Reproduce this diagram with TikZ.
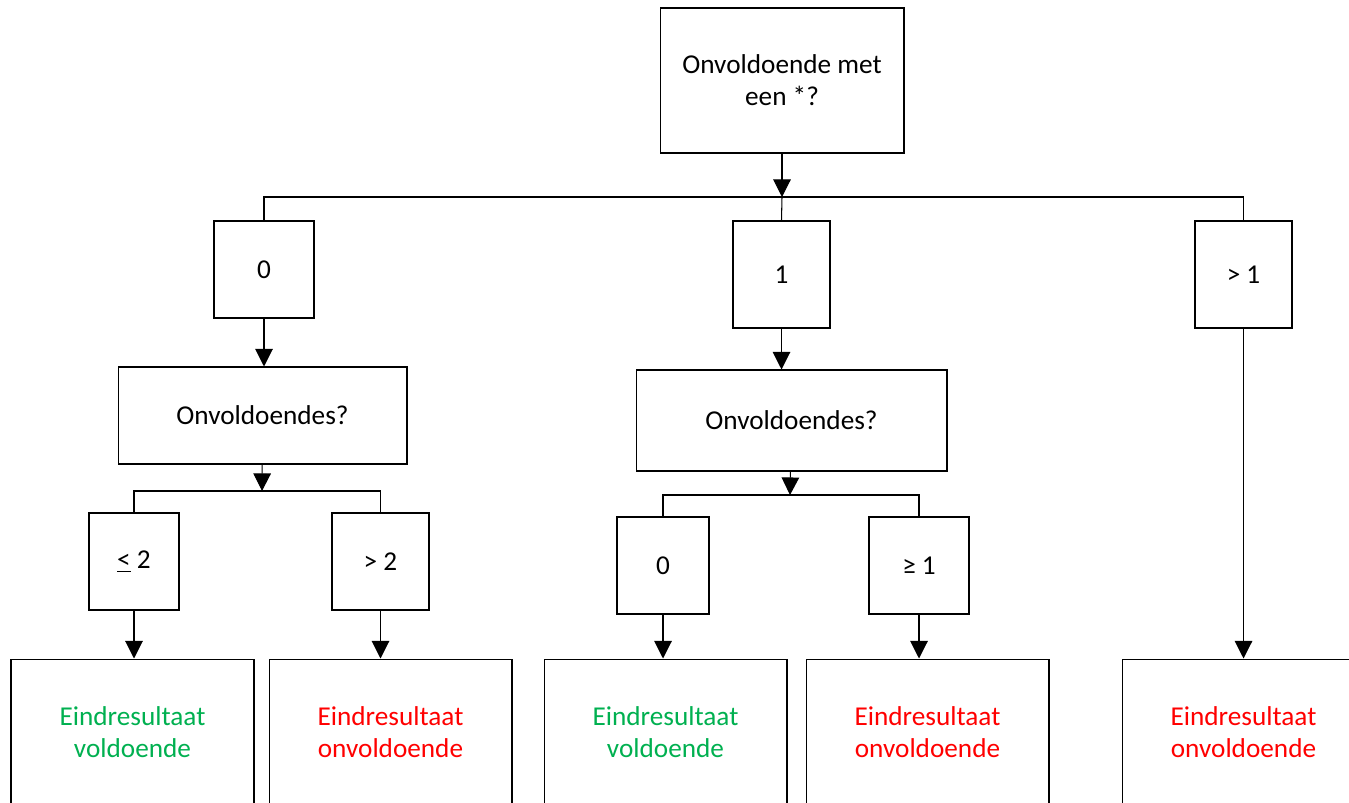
\documentclass[tikz,border=0pt]{standalone}
\usepackage{fontspec}
\setmainfont{Carlito}
\usetikzlibrary{arrows.meta}
\definecolor{okgreen}{HTML}{00B050}
\definecolor{badred}{HTML}{FF0000}
\begin{document}
\begin{tikzpicture}[x=0.02cm,y=-0.02cm,
  line width=0.6pt,
  box/.style={draw,inner sep=0pt,align=center,
    font=\fontsize{15.5}{18.2}\selectfont},
  arr/.style={-{Triangle[length=10pt,width=10pt]}}]
\useasboundingbox (0,0) rectangle (1349,802);
% vraag bovenaan
\node[box,minimum width=4.88cm,minimum height=2.9cm] (top) at (782,80.5) {Onvoldoende met\\een *?};
\coordinate (j0) at (782,197);
\node[box,minimum width=2cm,minimum height=1.94cm] (b0) at (264,269.5) {0};
\node[box,minimum width=1.94cm,minimum height=2.14cm] (b1) at (781.5,274.5) {1};
\node[box,minimum width=1.94cm,minimum height=2.14cm] (bg1) at (1243.5,274.5) {> 1};
\draw[arr] (top) -- (j0);
\draw (b0.north) |- (j0) -| (bg1.north);
\draw (j0) -- (b1.north);
% tak 0
\node[box,minimum width=5.78cm,minimum height=1.94cm] (q1) at (262.5,415.5) {Onvoldoendes?};
\coordinate (j1) at (262,491);
\node[box,minimum width=1.8cm,minimum height=1.94cm] (le2) at (134,561.5) {\underline{<} 2};
\node[box,minimum width=1.94cm,minimum height=1.94cm] (gt2) at (380.5,561.5) {> 2};
\draw[arr] (b0) -- (b0.south |- q1.north);
\draw[arr] (q1) -- (j1);
\draw (le2.north) |- (j1) -| (gt2.north);
% tak 1
\node[box,minimum width=6.22cm,minimum height=2.02cm] (q2) at (791.5,420.5) {Onvoldoendes?};
\coordinate (j2) at (790,495);
\node[box,minimum width=1.84cm,minimum height=1.94cm] (z) at (663,565.5) {0};
\node[box,minimum width=2cm,minimum height=1.94cm] (ge1) at (919,565.5) {≥ 1};
\draw[arr] (b1) -- (b1.south |- q2.north);
\draw[arr] (q2) -- (j2);
\draw (z.north) |- (j2) -| (ge1.north);
% eindresultaten
\node[box,text=okgreen,minimum width=4.86cm,minimum height=2.92cm] (e1) at (132.5,732) {Eindresultaat\\voldoende};
\node[box,text=badred,minimum width=4.86cm,minimum height=2.92cm] (e2) at (390.5,732) {Eindresultaat\\onvoldoende};
\node[box,text=okgreen,minimum width=4.86cm,minimum height=2.92cm] (e3) at (665.5,732) {Eindresultaat\\voldoende};
\node[box,text=badred,minimum width=4.86cm,minimum height=2.92cm] (e4) at (927.5,732) {Eindresultaat\\onvoldoende};
\node[box,text=badred,minimum width=4.86cm,minimum height=2.92cm] (e5) at (1243.5,732) {Eindresultaat\\onvoldoende};
\draw[arr] (le2) -- (le2.south |- e1.north);
\draw[arr] (gt2) -- (gt2.south |- e2.north);
\draw[arr] (z) -- (z.south |- e3.north);
\draw[arr] (ge1) -- (ge1.south |- e4.north);
\draw[arr] (bg1) -- (bg1.south |- e5.north);
\end{tikzpicture}
\end{document}
